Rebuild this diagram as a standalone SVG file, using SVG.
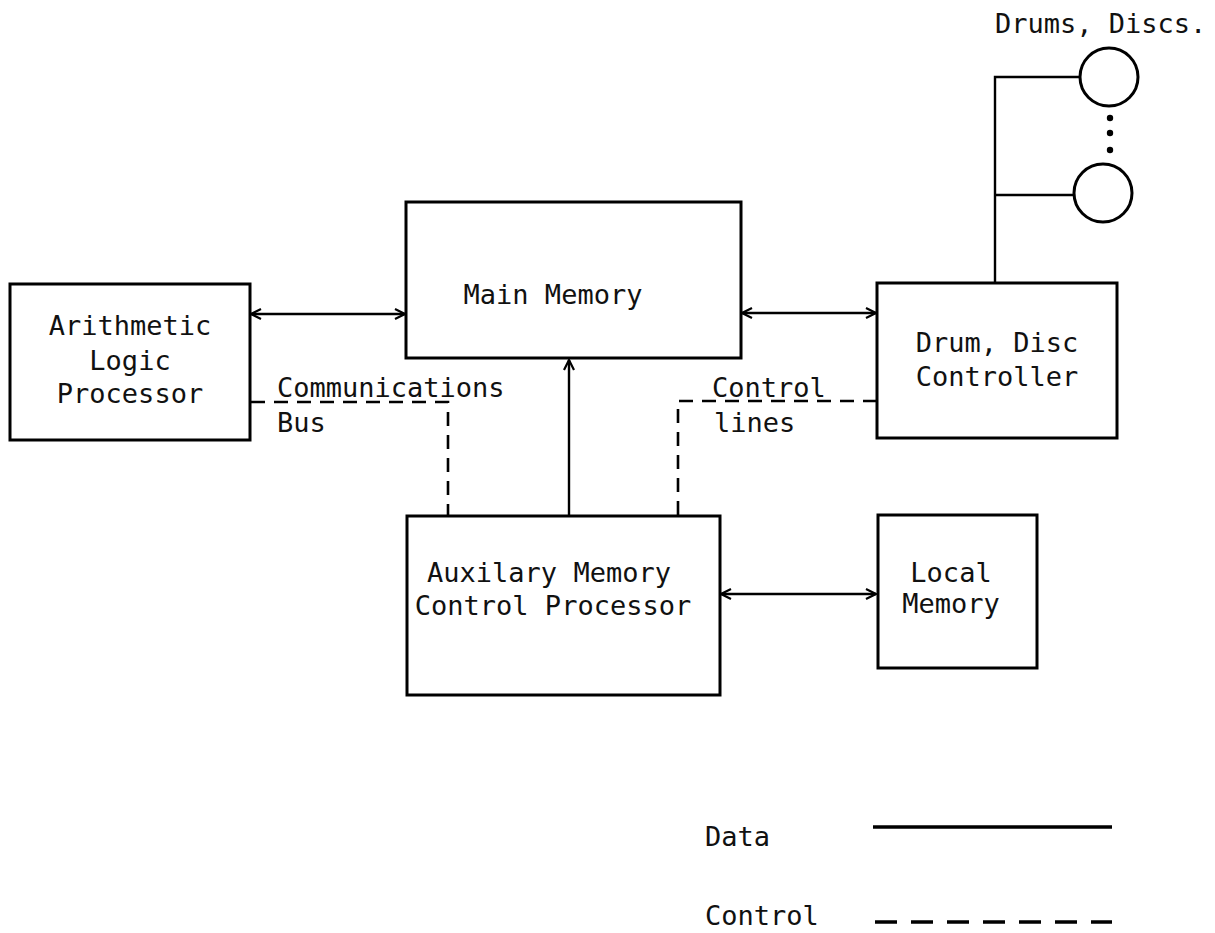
<svg xmlns="http://www.w3.org/2000/svg" width="1215" height="933" viewBox="0 0 1215 933">
<style>
.box{fill:#fff;stroke:#000;stroke-width:3}
.t{font-family:"DejaVu Sans Mono","Liberation Mono",monospace;font-size:27px;fill:#111}
.c{text-anchor:middle}
.data{fill:none;stroke:#000;stroke-width:2.4}
.ctl{fill:none;stroke:#000;stroke-width:2.6;stroke-dasharray:14 9}
</style>
<defs>
<marker id="ah" viewBox="0 0 12 12" refX="11" refY="6" markerWidth="12" markerHeight="12" markerUnits="userSpaceOnUse" orient="auto-start-reverse">
<path d="M1,1 L11,6 L1,11" fill="none" stroke="#000" stroke-width="2.2"/>
</marker>
</defs>
<rect width="1215" height="933" fill="#fff"/>
<g id="connectors">
<line class="data" x1="251" y1="314" x2="405" y2="314" marker-start="url(#ah)" marker-end="url(#ah)"/>
<line class="data" x1="742" y1="313" x2="876" y2="313" marker-start="url(#ah)" marker-end="url(#ah)"/>
<line class="data" x1="721" y1="594" x2="876" y2="594" marker-start="url(#ah)" marker-end="url(#ah)"/>
<line class="data" x1="569" y1="515" x2="569" y2="360" marker-end="url(#ah)"/>
<polyline class="data" points="995,283 995,77 1080,77"/>
<line class="data" x1="995" y1="195" x2="1074" y2="195"/>
<polyline class="ctl" points="251,402 448,402 448,515"/>
<polyline class="ctl" points="678,515 678,401 876,401"/>
</g>
<g id="alp">
<rect class="box" x="10" y="284" width="240" height="156"/>
<text class="t c" x="130" y="335">Arithmetic</text>
<text class="t c" x="130" y="370">Logic</text>
<text class="t c" x="130" y="403">Processor</text>
</g>
<g id="main-memory">
<rect class="box" x="406" y="202" width="335" height="156"/>
<text class="t c" x="553" y="304">Main Memory</text>
</g>
<g id="controller">
<rect class="box" x="877" y="283" width="240" height="155"/>
<text class="t c" x="997" y="352">Drum, Disc</text>
<text class="t c" x="997" y="386">Controller</text>
</g>
<g id="aux">
<rect class="box" x="407" y="516" width="313" height="179"/>
<text class="t c" x="549" y="582">Auxilary Memory</text>
<text class="t c" x="553" y="615">Control Processor</text>
</g>
<g id="local-memory">
<rect class="box" x="878" y="515" width="159" height="153"/>
<text class="t c" x="951" y="582">Local</text>
<text class="t c" x="951" y="613">Memory</text>
</g>
<g id="drums">
<text class="t" x="995" y="33">Drums, Discs.</text>
<circle cx="1109" cy="77" r="29" fill="none" stroke="#000" stroke-width="3"/>
<circle cx="1103" cy="193" r="29" fill="none" stroke="#000" stroke-width="3"/>
<circle cx="1110" cy="118" r="3.2" fill="#000"/>
<circle cx="1110" cy="133" r="3.2" fill="#000"/>
<circle cx="1110" cy="150" r="3.2" fill="#000"/>
</g>
<g id="labels">
<text class="t" x="277" y="397">Communications</text>
<text class="t" x="277" y="432">Bus</text>
<text class="t" x="712" y="397">Control</text>
<text class="t" x="714" y="432">lines</text>
</g>
<g id="legend">
<text class="t" x="705" y="846">Data</text>
<line x1="873" y1="827" x2="1112" y2="827" stroke="#000" stroke-width="3.5"/>
<text class="t" x="705" y="925">Control</text>
<line x1="875" y1="922" x2="1112" y2="922" stroke="#000" stroke-width="3.5" stroke-dasharray="22 14"/>
</g>
</svg>
